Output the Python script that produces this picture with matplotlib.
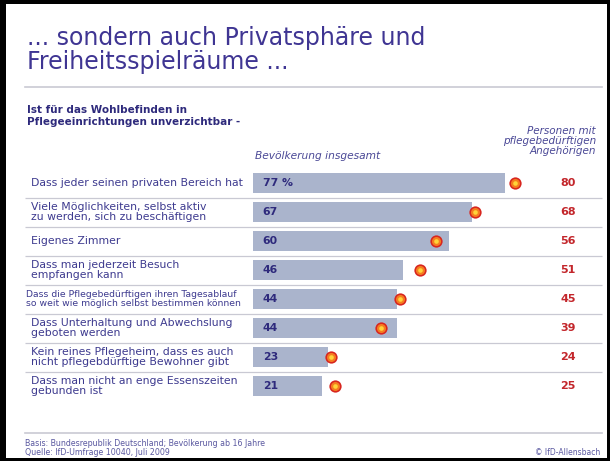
import matplotlib.pyplot as plt
from matplotlib.patches import Rectangle

plt.rcParams["font.family"] = ["DejaVu Sans"]

# data
labels = [
    "Dass jeder seinen privaten Bereich hat",
    "Viele Möglichkeiten, selbst aktiv\nzu werden, sich zu beschäftigen",
    "Eigenes Zimmer",
    "Dass man jederzeit Besuch\nempfangen kann",
    "Dass die Pflegebedürftigen ihren Tagesablauf\nso weit wie möglich selbst bestimmen können",
    "Dass Unterhaltung und Abwechslung\ngeboten werden",
    "Kein reines Pflegeheim, dass es auch\nnicht pflegebdürftige Bewohner gibt",
    "Dass man nicht an enge Essenszeiten\ngebunden ist",
]
bevoelkerung = [77, 67, 60, 46, 44, 44, 23, 21]
angehoerige = [80, 68, 56, 51, 45, 39, 24, 25]

TITLE = ["... sondern auch Privatsphäre und", "Freiheitsspielräume ..."]
SUBTITLE = "Ist für das Wohlbefinden in\nPflegeeinrichtungen unverzichtbar -"
HEAD_ALL = "Bevölkerung insgesamt"
HEAD_REL = "Personen mit\npflegebedürftigen\nAngehörigen"
FOOT_1 = "Basis: Bundesrepublik Deutschland; Bevölkerung ab 16 Jahre"
FOOT_2 = "Quelle: IfD-Umfrage 10040, Juli 2009"
FOOT_R = "© IfD-Allensbach"

NAVY = "#2e2a7c"
PURPLE = "#3f3593"
LABEL_C = "#3d3a8f"
BAR_C = "#aab4cc"
RED = "#c3262b"
LINE_C = "#c9c9d3"

W, H = 610, 461
fig = plt.figure(figsize=(W / 100, H / 100), dpi=100)
fig.patch.set_facecolor("white")


def fx(px):
    return px / W


def fy(py):
    return 1 - py / H


# one axes over the whole figure, scaled so bars start at px 253
X0, SX = 253, 3.27
Y0, SY = 183, 29.0
ax = fig.add_axes([0, 0, 1, 1])
ax.set_xlim(-X0 / SX, (W - X0) / SX)
ax.set_ylim((H - Y0) / SY, -Y0 / SY)
ax.axis("off")

rows = range(len(labels))
ax.barh(rows, bevoelkerung, height=0.69, color=BAR_C, zorder=2)

for i, (lab, v, a) in enumerate(zip(labels, bevoelkerung, angehoerige)):
    # the one very long label is set smaller so it fits before the bar
    long_lab = max(len(s) for s in lab.split("\n")) > 40
    fs = 6.7 if long_lab else 7.8
    lx = 26 if long_lab else 31
    ax.text((lx - X0) / SX, i, lab, ha="left", va="center", fontsize=fs,
            color=LABEL_C, linespacing=1.12)
    txt = f"{v} %" if i == 0 else f"{v}"
    ax.text(3.0, i, txt, ha="left", va="center", fontsize=7.8,
            fontweight="bold", color=NAVY, zorder=3)
    ax.text((568 - X0) / SX, i, f"{a}", ha="center", va="center",
            fontsize=8, fontweight="bold", color=RED)

# dots: red rim, orange body, yellow core
ax.scatter(angehoerige, rows, s=78, color="#d8261f", zorder=4, linewidths=0)
ax.scatter(angehoerige, rows, s=42, color="#f57d1f", zorder=5, linewidths=0)
ax.scatter(angehoerige, rows, s=11, color="#ffd43a", zorder=6, linewidths=0)

# row separators
ax.hlines([i + 0.5 for i in range(len(labels) - 1)],
          (25 - X0) / SX, (602 - X0) / SX, color=LINE_C, lw=0.9, zorder=1)

# header texts
fig.text(fx(27), fy(45), TITLE[0], ha="left", va="baseline", fontsize=17,
         color=PURPLE)
fig.text(fx(27), fy(69), TITLE[1], ha="left", va="baseline", fontsize=17,
         color=PURPLE)
fig.add_artist(plt.Line2D([fx(25), fx(602)], [fy(87), fy(87)],
                          color=LINE_C, lw=1.2))
fig.text(fx(27), fy(116), SUBTITLE, ha="left", va="center", fontsize=7.5,
         fontweight="bold", color=NAVY, linespacing=1.25)
fig.text(fx(318), fy(156), HEAD_ALL, ha="center", va="center", fontsize=7.7,
         style="italic", color="#4a4896")
fig.text(fx(596), fy(141), HEAD_REL, ha="right", va="center", fontsize=7.5,
         style="italic", color="#4a4896", linespacing=1.05)

# footer
fig.add_artist(plt.Line2D([fx(25), fx(602)], [fy(433), fy(433)],
                          color=LINE_C, lw=1.2))
fig.text(fx(25), fy(443), FOOT_1, ha="left", va="center", fontsize=5.7,
         color="#5a58a0")
fig.text(fx(25), fy(452), FOOT_2, ha="left", va="center", fontsize=5.7,
         color="#5a58a0")
fig.text(fx(600), fy(452), FOOT_R, ha="right", va="center", fontsize=5.5,
         color="#5a58a0")

# black frame round the slide
for x, y, w, h in [(0, 0, 6, H), (W - 3, 0, 3, H), (0, 0, W, 4), (0, H - 3, W, 3)]:
    fig.add_artist(Rectangle((fx(x), fy(y + h)), w / W, h / H,
                             transform=fig.transFigure, color="black", lw=0))

fig.savefig("out.png", dpi=100)
